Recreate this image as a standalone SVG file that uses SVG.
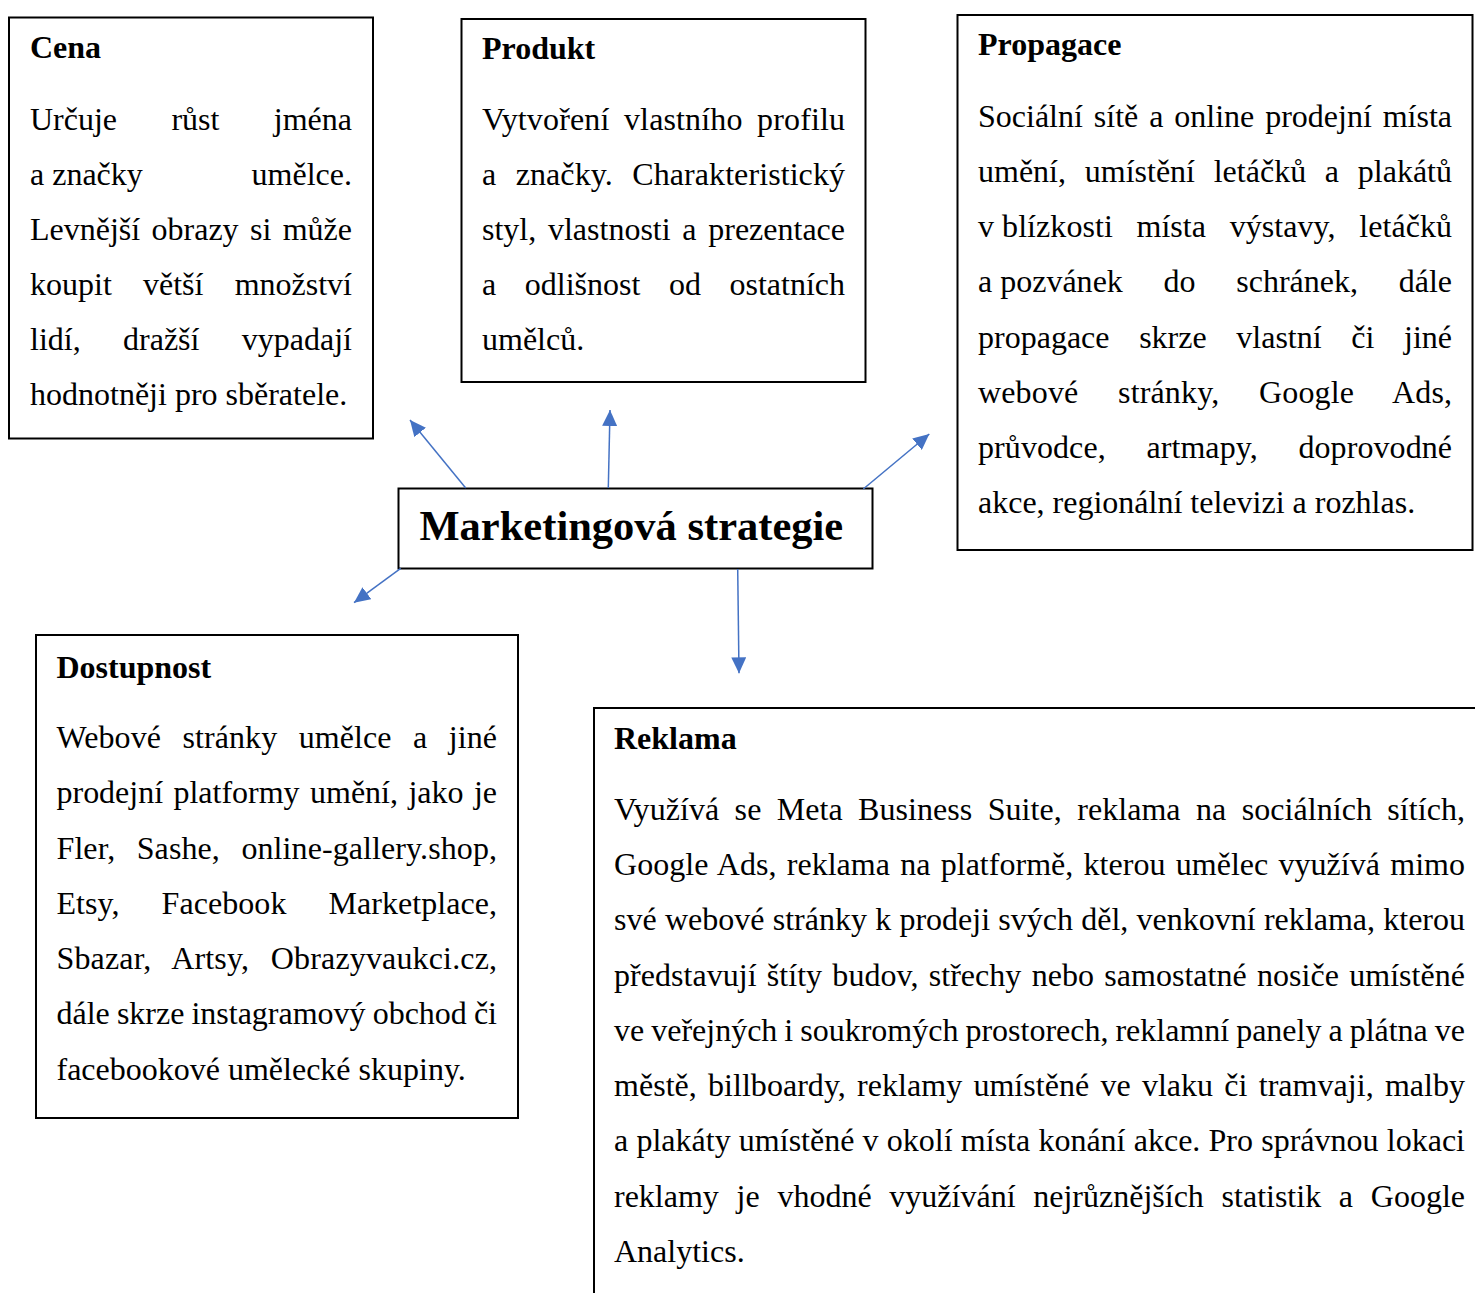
<svg xmlns="http://www.w3.org/2000/svg" width="1475" height="1293" viewBox="0 0 1475 1293">
<style>
.box{fill:#fff;stroke:#000;stroke-width:2}
.t{font-family:"Liberation Serif","Times New Roman",serif;font-size:32px;fill:#000}
.h{font-weight:bold}
.conn{stroke:#4472C4;stroke-width:1.5;fill:none;marker-end:url(#ah)}
</style>
<defs>
<marker id="ah" viewBox="0 0 16 15" refX="16" refY="7.5" markerWidth="16" markerHeight="15" markerUnits="userSpaceOnUse" orient="auto">
<path d="M0,0 L16,7.5 L0,15 z" fill="#4472C4"/>
</marker>
</defs>
<rect width="1475" height="1293" fill="#fff"/>

<g id="cena">
<rect class="box" x="9" y="17.5" width="364" height="421"/>
<text class="t h" x="30" y="58">Cena</text>
<text class="t" x="30" y="130" style="word-spacing:46.35px" textLength="322" lengthAdjust="spacing">Určuje růst jména</text>
<text class="t" x="30" y="185" style="word-spacing:100.8px" textLength="322" lengthAdjust="spacing">a<tspan dx="8">značky</tspan> umělce.</text>
<text class="t" x="30" y="240" style="word-spacing:3.37px" textLength="322" lengthAdjust="spacing">Levnější obrazy si může</text>
<text class="t" x="30" y="295" style="word-spacing:23.2px" textLength="322" lengthAdjust="spacing">koupit větší množství</text>
<text class="t" x="30" y="350" style="word-spacing:34.35px" textLength="322" lengthAdjust="spacing">lidí, dražší vypadají</text>
<text class="t" x="30" y="405">hodnotněji pro sběratele.</text>
</g>

<g id="produkt">
<rect class="box" x="461.5" y="19" width="404" height="363"/>
<text class="t h" x="482" y="59">Produkt</text>
<text class="t" x="482" y="130" style="word-spacing:6.4px" textLength="363" lengthAdjust="spacing">Vytvoření vlastního profilu</text>
<text class="t" x="482" y="185" style="word-spacing:11.3px" textLength="363" lengthAdjust="spacing">a značky. Charakteristický</text>
<text class="t" x="482" y="240" style="word-spacing:3.7px" textLength="363" lengthAdjust="spacing">styl, vlastnosti a prezentace</text>
<text class="t" x="482" y="295" style="word-spacing:20.6px" textLength="363" lengthAdjust="spacing">a odlišnost od ostatních</text>
<text class="t" x="482" y="350">umělců.</text>
</g>

<g id="propagace">
<rect class="box" x="957.5" y="15" width="515" height="535"/>
<text class="t h" x="978" y="55">Propagace</text>
<text class="t" x="978" y="127" style="word-spacing:2.9px" textLength="474" lengthAdjust="spacing">Sociální sítě a online prodejní místa</text>
<text class="t" x="978" y="182" style="word-spacing:10.7px" textLength="474" lengthAdjust="spacing">umění, umístění letáčků a plakátů</text>
<text class="t" x="978" y="237" style="word-spacing:15.47px" textLength="474" lengthAdjust="spacing">v<tspan dx="8">blízkosti</tspan> místa výstavy, letáčků</text>
<text class="t" x="978" y="292" style="word-spacing:32.7px" textLength="474" lengthAdjust="spacing">a<tspan dx="8">pozvánek</tspan> do schránek, dále</text>
<text class="t" x="978" y="348" style="word-spacing:21.6px" textLength="474" lengthAdjust="spacing">propagace skrze vlastní či jiné</text>
<text class="t" x="978" y="403" style="word-spacing:31.5px" textLength="474" lengthAdjust="spacing">webové stránky, Google Ads,</text>
<text class="t" x="978" y="458" style="word-spacing:32.6px" textLength="474" lengthAdjust="spacing">průvodce, artmapy, doprovodné</text>
<text class="t" x="978" y="513">akce, regionální televizi a rozhlas.</text>
</g>

<g id="marketingova-strategie">
<rect class="box" x="398.5" y="488.5" width="474" height="80"/>
<text class="t h" x="419.5" y="540" style="font-size:42.5px">Marketingová strategie</text>
</g>

<g id="dostupnost">
<rect class="box" x="36" y="635" width="482" height="483"/>
<text class="t h" x="56.5" y="677.5">Dostupnost</text>
<text class="t" x="56.5" y="748" style="word-spacing:13.4px" textLength="440.5" lengthAdjust="spacing">Webové stránky umělce a jiné</text>
<text class="t" x="56.5" y="803" style="word-spacing:2.5px" textLength="440.5" lengthAdjust="spacing">prodejní platformy umění, jako je</text>
<text class="t" x="56.5" y="858.5" style="word-spacing:13.4px" textLength="440.5" lengthAdjust="spacing">Fler, Sashe, online-gallery.shop,</text>
<text class="t" x="56.5" y="914" style="word-spacing:33.9px" textLength="440.5" lengthAdjust="spacing">Etsy, Facebook Marketplace,</text>
<text class="t" x="56.5" y="969" style="word-spacing:13.45px" textLength="440.5" lengthAdjust="spacing">Sbazar, Artsy, Obrazyvaukci.cz,</text>
<text class="t" x="56.5" y="1024" style="word-spacing:-0.85px" textLength="440.5" lengthAdjust="spacing">dále skrze instagramový obchod či</text>
<text class="t" x="56.5" y="1079.5">facebookové umělecké skupiny.</text>
</g>

<g id="reklama">
<rect class="box" x="594" y="708" width="900" height="700"/>
<text class="t h" x="614" y="749">Reklama</text>
<text class="t" x="614" y="820" style="word-spacing:7.3px" textLength="851" lengthAdjust="spacing">Využívá se Meta Business Suite, reklama na sociálních sítích,</text>
<text class="t" x="614" y="875" style="word-spacing:2.2px" textLength="851" lengthAdjust="spacing">Google Ads, reklama na platformě, kterou umělec využívá mimo</text>
<text class="t" x="614" y="930" style="word-spacing:0.26px" textLength="851" lengthAdjust="spacing">své webové stránky k prodeji svých děl, venkovní reklama, kterou</text>
<text class="t" x="614" y="986" style="word-spacing:2.2px" textLength="851" lengthAdjust="spacing">představují štíty budov, střechy nebo samostatné nosiče umístěné</text>
<text class="t" x="614" y="1041" style="word-spacing:-1.03px" textLength="851" lengthAdjust="spacing">ve veřejných i soukromých prostorech, reklamní panely a plátna ve</text>
<text class="t" x="614" y="1096" style="word-spacing:3.16px" textLength="851" lengthAdjust="spacing">městě, billboardy, reklamy umístěné ve vlaku či tramvaji, malby</text>
<text class="t" x="614" y="1151" style="word-spacing:0.2px" textLength="851" lengthAdjust="spacing">a plakáty umístěné v okolí místa konání akce. Pro správnou lokaci</text>
<text class="t" x="614" y="1207" style="word-spacing:9.7px" textLength="851" lengthAdjust="spacing">reklamy je vhodné využívání nejrůznějších statistik a Google</text>
<text class="t" x="614" y="1262">Analytics.</text>
</g>

<g id="connectors">
<line class="conn" x1="465.7" y1="488" x2="410" y2="420"/>
<line class="conn" x1="608.3" y1="488" x2="610" y2="410"/>
<line class="conn" x1="863.3" y1="489" x2="929.3" y2="434"/>
<line class="conn" x1="400.7" y1="568.3" x2="354" y2="602.7"/>
<line class="conn" x1="737.7" y1="569" x2="739" y2="673.3"/>
</g>
</svg>
